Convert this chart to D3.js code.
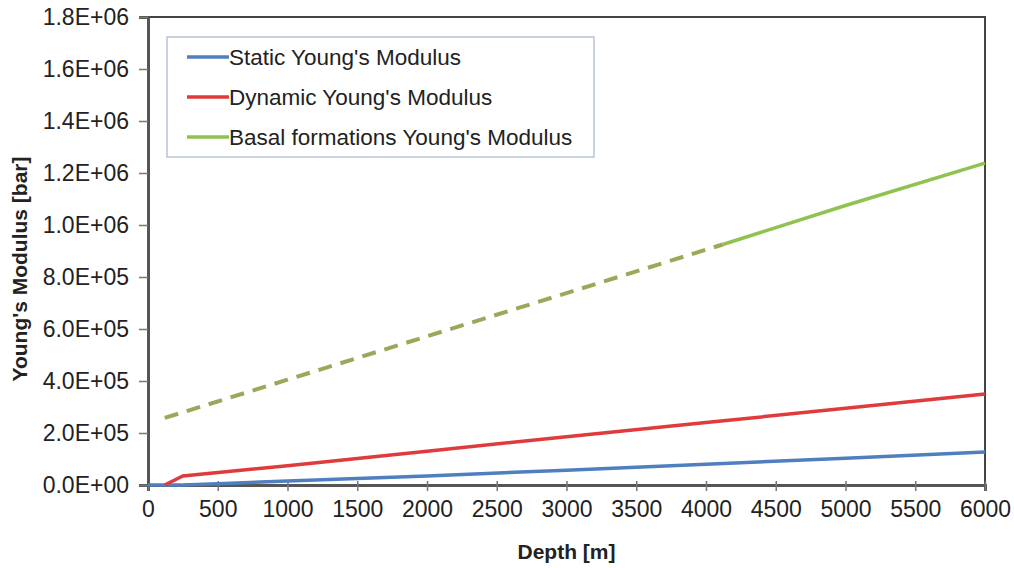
<!DOCTYPE html>
<html>
<head>
<meta charset="utf-8">
<script src="https://cdn.jsdelivr.net/npm/d3@7"></script>
<style>
body { margin: 0; background: #fff; }
text { font-family: "Liberation Sans", Arial, sans-serif; fill: #222; }
</style>
</head>
<body>
<script>
// depth [m] and Young's modulus [bar]
var staticDepth = [0, 250, 500, 1000, 2000, 3000, 4000, 5000, 6000];
var staticE     = [0, 0, 5000, 15000, 35000, 57000, 80000, 103000, 127000];

var dynDepth = [120, 250, 1000, 2000, 3000, 4000, 5000, 6000];
var dynE     = [0, 35000, 74000, 130000, 186000, 240000, 295000, 350000];

var basalDashDepth = [120, 1000, 2000, 3000, 4120];
var basalDashE     = [258000, 405000, 572000, 738000, 925000];
var basalDepth = [4120, 5000, 6000];
var basalE     = [925000, 1075000, 1238000];

var xTicks = d3.range(0, 6001, 500);
var yTicks = d3.range(0, 1800001, 200000);

var legendNames = ["Static Young's Modulus", "Dynamic Young's Modulus", "Basal formations Young's Modulus"];
var colors = ["#4f7fbf", "#e03a3c", "#8fc24f"];

var margin = {top: 17, right: 29, bottom: 83, left: 148},
	width = 1014 - margin.left - margin.right,
	height = 568 - margin.top - margin.bottom;

var svg = d3.select("body").append("svg")
	.attr("width", 1014)
	.attr("height", 568)
	.append("g")
	.attr("transform", "translate(" + margin.left + "," + margin.top + ")");

var x = d3.scaleLinear().domain([0, 6000]).range([0, width]);
var y = d3.scaleLinear().domain([0, 1800000]).range([height, 0]);

function pts(xs, ys) {
	return xs.map(function(d, i) { return [d, ys[i]]; });
}

var line = d3.line()
	.x(function(d) { return x(d[0]); })
	.y(function(d) { return y(d[1]); });

// frame
svg.append("rect")
	.attr("width", width)
	.attr("height", height)
	.attr("fill", "none")
	.attr("stroke", "#444")
	.attr("stroke-width", 2);

var xAxis = svg.append("g")
	.attr("transform", "translate(0," + height + ")")
	.call(d3.axisBottom(x).tickValues(xTicks).tickSize(6).tickFormat(d3.format("d")));
xAxis.select(".domain").attr("stroke", "#555").attr("stroke-width", 3);
xAxis.selectAll(".tick line").attr("stroke", "#777").attr("y1", -4).attr("stroke-width", 1.5);
xAxis.selectAll(".tick text").attr("y", 32).attr("dy", null).style("font-size", "23px");

var yAxis = svg.append("g")
	.call(d3.axisLeft(y).tickValues(yTicks).tickSize(9)
		.tickFormat(function(d) { return (d / 1e5 < 10 ? (d / 1e5).toFixed(1) + "E+05" : (d / 1e6).toFixed(1) + "E+06"); }));
yAxis.select(".domain").attr("stroke", "#555").attr("stroke-width", 3);
yAxis.selectAll(".tick line").attr("stroke", "#777").attr("stroke-width", 1.5);
yAxis.selectAll(".tick text").attr("x", -19).style("font-size", "23px");
yAxis.selectAll(".tick text").filter(function(d) { return d === 0; }).text("0.0E+00");

// series
svg.append("path")
	.datum(pts(staticDepth, staticE))
	.attr("d", line)
	.attr("fill", "none")
	.attr("stroke", colors[0])
	.attr("stroke-width", 3.5);

svg.append("path")
	.datum(pts(dynDepth, dynE))
	.attr("d", line)
	.attr("fill", "none")
	.attr("stroke", colors[1])
	.attr("stroke-width", 3.5);

svg.append("path")
	.datum(pts(basalDashDepth, basalDashE))
	.attr("d", line)
	.attr("fill", "none")
	.attr("stroke", "#9aa85a")
	.attr("stroke-width", 4)
	.attr("stroke-dasharray", "14,9");

svg.append("path")
	.datum(pts(basalDepth, basalE))
	.attr("d", line)
	.attr("fill", "none")
	.attr("stroke", colors[2])
	.attr("stroke-width", 3.5);

// legend
var legend = svg.append("g").attr("transform", "translate(19,20)");
legend.append("rect")
	.attr("width", 427)
	.attr("height", 120)
	.attr("fill", "#fff")
	.attr("stroke", "#b8c4d4")
	.attr("stroke-width", 1.5);

var items = legend.selectAll(".item")
	.data(legendNames)
	.enter().append("g")
	.attr("class", "item")
	.attr("transform", function(d, i) { return "translate(0," + (20 + i * 40) + ")"; });

items.append("line")
	.attr("x1", 20).attr("x2", 62)
	.attr("y1", 0).attr("y2", 0)
	.attr("stroke", function(d, i) { return colors[i]; })
	.attr("stroke-width", 3.5);

items.append("text")
	.attr("x", 62)
	.attr("dy", "0.35em")
	.style("font-size", "22.5px")
	.text(function(d) { return d; });

// axis titles
svg.append("text")
	.attr("x", width / 2)
	.attr("y", height + 74)
	.style("text-anchor", "middle")
	.style("font-weight", "bold")
	.style("font-size", "21px")
	.text("Depth [m]");

svg.append("text")
	.attr("transform", "rotate(-90)")
	.attr("x", -(height / 2 + 18))
	.attr("y", -121)
	.style("text-anchor", "middle")
	.style("font-weight", "bold")
	.style("font-size", "21px")
	.text("Young's Modulus [bar]");
</script>
</body>
</html>
